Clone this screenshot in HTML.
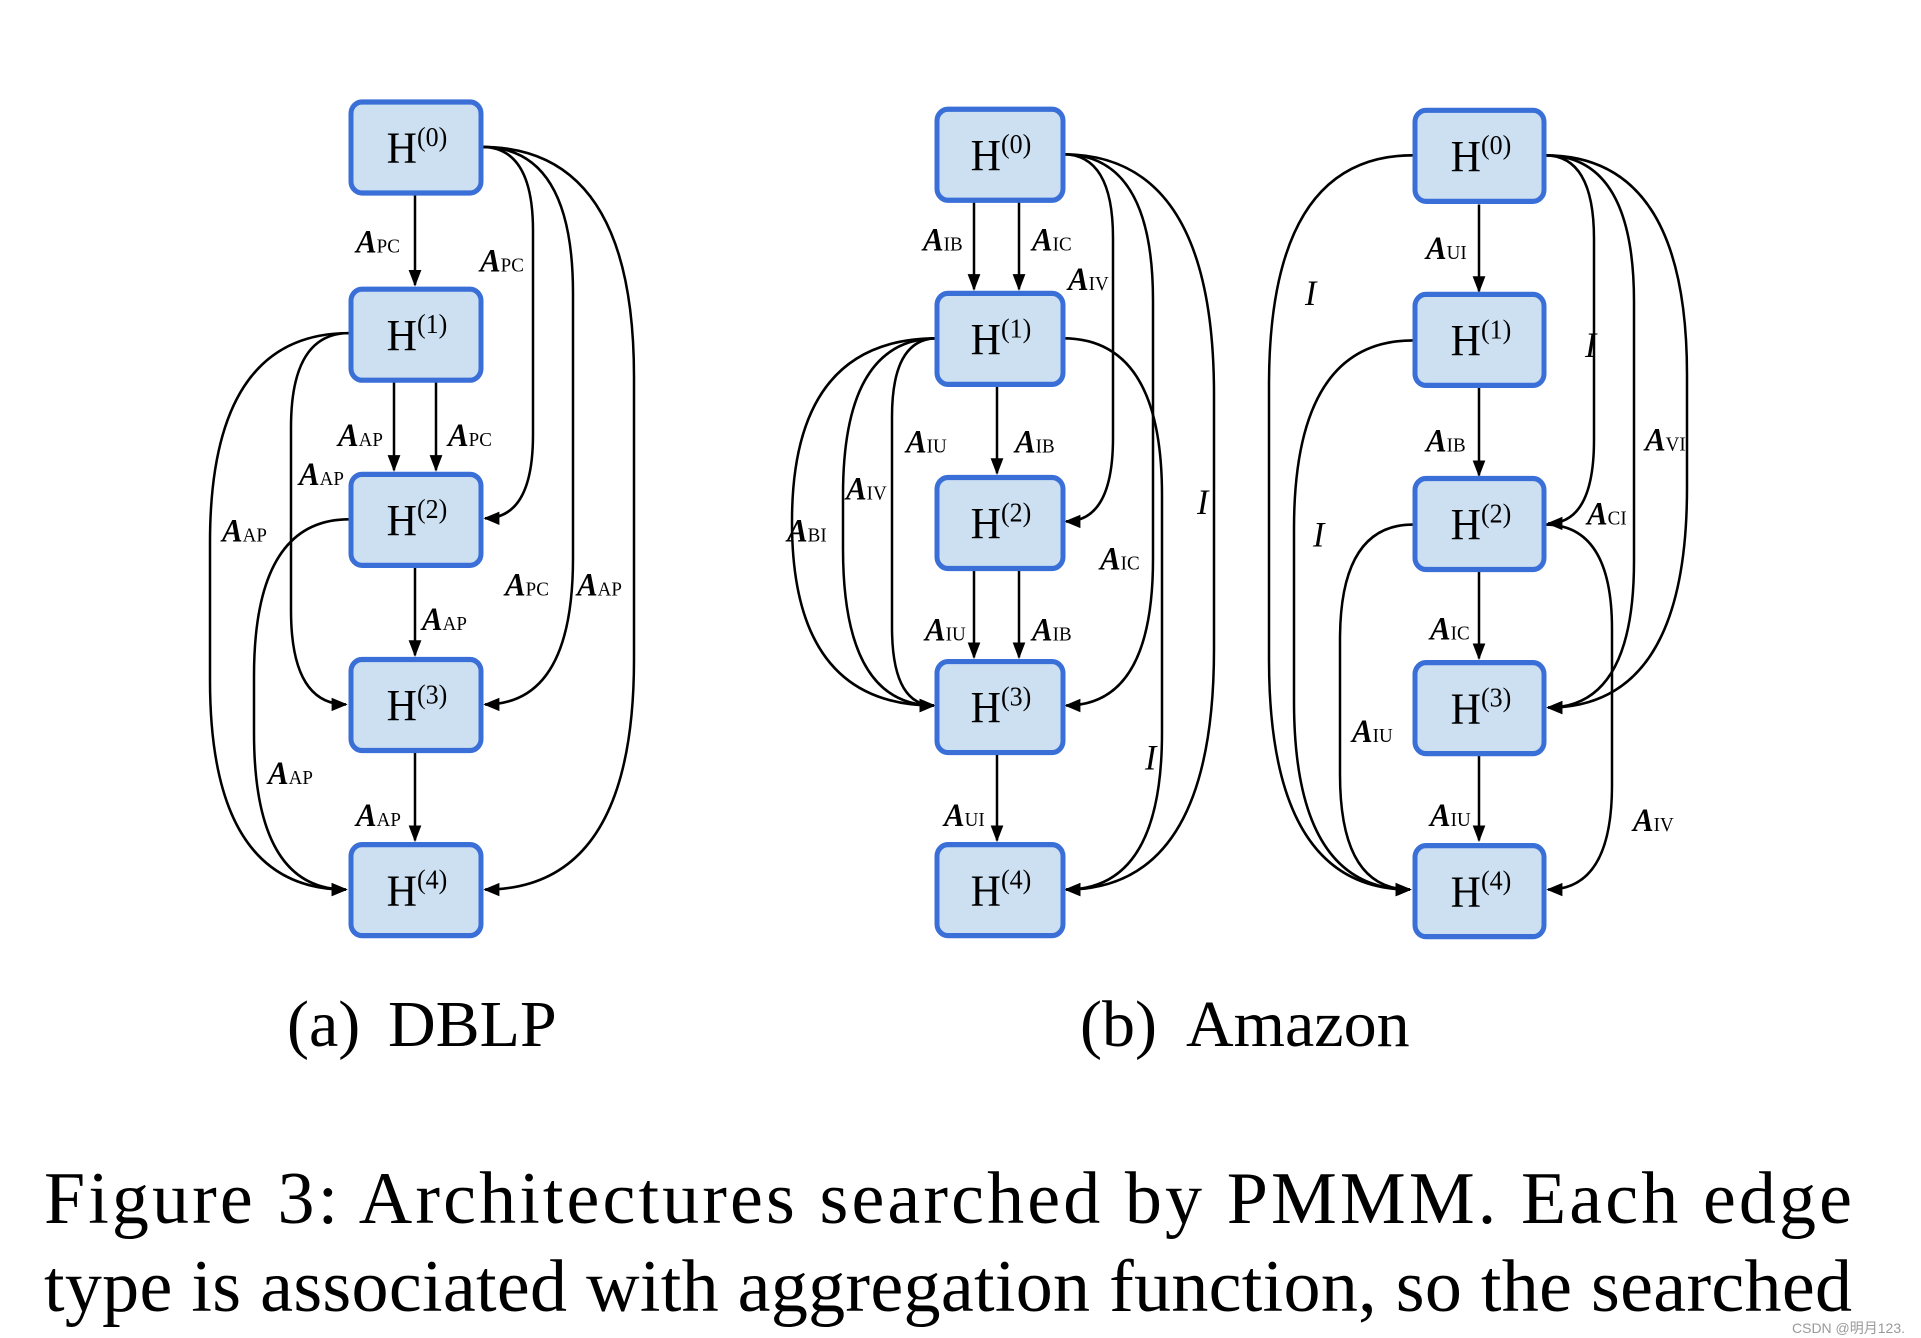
<!DOCTYPE html>
<html><head><meta charset="utf-8"><style>
html,body{margin:0;padding:0;background:#fff;}
svg{display:block;}
.n{font-family:"Liberation Serif",serif;font-size:42px;fill:#000;}
.l{font-family:"Liberation Serif",serif;font-size:31px;font-weight:bold;font-style:italic;fill:#000;}
.s{font-size:19px;font-weight:normal;font-style:normal;}
.i{font-family:"Liberation Serif",serif;font-size:34px;font-style:italic;fill:#000;}
.c{font-family:"Liberation Serif",serif;font-size:66px;fill:#000;}
.f{font-family:"Liberation Serif",serif;font-size:74px;fill:#000;}
</style></head><body>
<svg width="1921" height="1338" viewBox="0 0 1921 1338" xmlns="http://www.w3.org/2000/svg">
<defs>
<marker id="b" viewBox="0 0 10 10" refX="9" refY="5" markerWidth="16" markerHeight="16" orient="auto" markerUnits="userSpaceOnUse">
<path d="M0,1 L10,5 L0,9 z" fill="#000"/></marker>
</defs>
<g transform="translate(0,-1.6) scale(1,1.046)">
<g fill="none" stroke="#000" stroke-width="2.5" marker-end="url(#b)">
<path d="M415 188 L415 274"/>
<path d="M394 367 L394 451"/>
<path d="M436 367 L436 451"/>
<path d="M415 543 L415 628"/>
<path d="M415 721 L415 805"/>
<path d="M482 142 Q533 142 533 222 L533 417 Q533 497 485 497"/>
<path d="M482 142 Q573 142 573 282 L573 535 Q573 675 485 675"/>
<path d="M482 142 Q634 142 634 362 L634 632 Q634 852 485 852"/>
<path d="M349 320 Q291 320 291 410 L291 585 Q291 675 346 675"/>
<path d="M349 320 Q210 320 210 520 L210 652 Q210 852 346 852"/>
<path d="M349 498 Q254 498 254 648 L254 702 Q254 852 346 852"/>
<path d="M974 195 L974 278"/>
<path d="M1019 195 L1019 278"/>
<path d="M997 370 L997 454"/>
<path d="M974 546 L974 630"/>
<path d="M1019 546 L1019 630"/>
<path d="M997 722 L997 805"/>
<path d="M1063 149 Q1113 149 1113 229 L1113 420 Q1113 500 1066 500"/>
<path d="M1063 149 Q1153 149 1153 289 L1153 536 Q1153 676 1066 676"/>
<path d="M1063 149 Q1214 149 1214 379 L1214 622 Q1214 852 1066 852"/>
<path d="M1063 325 Q1162 325 1162 475 L1162 702 Q1162 852 1066 852"/>
<path d="M937 325 Q792 325 792 500 L792 501 Q792 676 934 676"/>
<path d="M937 325 Q843 325 843 475 L843 526 Q843 676 934 676"/>
<path d="M937 325 Q892 325 892 400 L892 601 Q892 676 934 676"/>
<path d="M1479 197 L1479 280"/>
<path d="M1479 371 L1479 456"/>
<path d="M1479 547 L1479 631"/>
<path d="M1479 723 L1479 805"/>
<path d="M1413 150 Q1269 150 1269 370 L1269 632 Q1269 852 1410 852"/>
<path d="M1413 327 Q1294 327 1294 507 L1294 672 Q1294 852 1410 852"/>
<path d="M1413 503 Q1340 503 1340 613 L1340 742 Q1340 852 1410 852"/>
<path d="M1545 150 Q1594 150 1594 230 L1594 422 Q1594 502 1548 502"/>
<path d="M1545 150 Q1634 150 1634 290 L1634 538 Q1634 678 1548 678"/>
<path d="M1545 150 Q1687 150 1687 360 L1687 468 Q1687 678 1548 678"/>
<path d="M1545 503 Q1612 503 1612 603 L1612 752 Q1612 852 1548 852"/>
</g>
<g fill="#cde0f2" stroke="#3a6fd8" stroke-width="5">
<rect x="351" y="99" width="130" height="87" rx="11"/>
<rect x="351" y="278" width="130" height="87" rx="11"/>
<rect x="351" y="455" width="130" height="87" rx="11"/>
<rect x="351" y="632" width="130" height="87" rx="11"/>
<rect x="351" y="809" width="130" height="87" rx="11"/>
<rect x="937" y="106" width="126" height="87" rx="11"/>
<rect x="937" y="282" width="126" height="87" rx="11"/>
<rect x="937" y="458" width="126" height="87" rx="11"/>
<rect x="937" y="634" width="126" height="87" rx="11"/>
<rect x="937" y="809" width="126" height="87" rx="11"/>
<rect x="1415" y="107" width="129" height="87" rx="11"/>
<rect x="1415" y="283" width="129" height="87" rx="11"/>
<rect x="1415" y="459" width="129" height="87" rx="11"/>
<rect x="1415" y="635" width="129" height="87" rx="11"/>
<rect x="1415" y="810" width="129" height="87" rx="11"/>
</g>
<g class="n" text-anchor="middle">
<text x="417" y="157">H<tspan font-size="26" dy="-16">(0)</tspan></text>
<text x="417" y="336">H<tspan font-size="26" dy="-16">(1)</tspan></text>
<text x="417" y="513">H<tspan font-size="26" dy="-16">(2)</tspan></text>
<text x="417" y="690">H<tspan font-size="26" dy="-16">(3)</tspan></text>
<text x="417" y="867">H<tspan font-size="26" dy="-16">(4)</tspan></text>
<text x="1001" y="164">H<tspan font-size="26" dy="-16">(0)</tspan></text>
<text x="1001" y="340">H<tspan font-size="26" dy="-16">(1)</tspan></text>
<text x="1001" y="516">H<tspan font-size="26" dy="-16">(2)</tspan></text>
<text x="1001" y="692">H<tspan font-size="26" dy="-16">(3)</tspan></text>
<text x="1001" y="867">H<tspan font-size="26" dy="-16">(4)</tspan></text>
<text x="1481" y="165">H<tspan font-size="26" dy="-16">(0)</tspan></text>
<text x="1481" y="341">H<tspan font-size="26" dy="-16">(1)</tspan></text>
<text x="1481" y="517">H<tspan font-size="26" dy="-16">(2)</tspan></text>
<text x="1481" y="693">H<tspan font-size="26" dy="-16">(3)</tspan></text>
<text x="1481" y="868">H<tspan font-size="26" dy="-16">(4)</tspan></text>
</g>
<g transform="translate(0,-9)">
<g class="l">
<text x="356" y="252">A<tspan class="s">PC</tspan></text>
<text x="480" y="270">A<tspan class="s">PC</tspan></text>
<text x="338" y="437">A<tspan class="s">AP</tspan></text>
<text x="448" y="437">A<tspan class="s">PC</tspan></text>
<text x="299" y="474">A<tspan class="s">AP</tspan></text>
<text x="222" y="528">A<tspan class="s">AP</tspan></text>
<text x="422" y="613">A<tspan class="s">AP</tspan></text>
<text x="505" y="580">A<tspan class="s">PC</tspan></text>
<text x="577" y="580">A<tspan class="s">AP</tspan></text>
<text x="268" y="760">A<tspan class="s">AP</tspan></text>
<text x="356" y="800">A<tspan class="s">AP</tspan></text>
<text x="923" y="250">A<tspan class="s">IB</tspan></text>
<text x="1032" y="250">A<tspan class="s">IC</tspan></text>
<text x="1068" y="288">A<tspan class="s">IV</tspan></text>
<text x="906" y="443">A<tspan class="s">IU</tspan></text>
<text x="1015" y="443">A<tspan class="s">IB</tspan></text>
<text x="846" y="488">A<tspan class="s">IV</tspan></text>
<text x="787" y="528">A<tspan class="s">BI</tspan></text>
<text x="1100" y="555">A<tspan class="s">IC</tspan></text>
<text x="925" y="623">A<tspan class="s">IU</tspan></text>
<text x="1032" y="623">A<tspan class="s">IB</tspan></text>
<text x="944" y="800">A<tspan class="s">UI</tspan></text>
<text x="1426" y="258">A<tspan class="s">UI</tspan></text>
<text x="1426" y="442">A<tspan class="s">IB</tspan></text>
<text x="1430" y="622">A<tspan class="s">IC</tspan></text>
<text x="1430" y="800">A<tspan class="s">IU</tspan></text>
<text x="1352" y="720">A<tspan class="s">IU</tspan></text>
<text x="1645" y="441">A<tspan class="s">VI</tspan></text>
<text x="1587" y="512">A<tspan class="s">CI</tspan></text>
<text x="1633" y="805">A<tspan class="s">IV</tspan></text>
</g>
<g class="i">
<text x="1197" y="502">I</text>
<text x="1145" y="746">I</text>
<text x="1305" y="302">I</text>
<text x="1313" y="533">I</text>
<text x="1585" y="352">I</text>
</g>
</g>
</g>
<text class="c" x="287" y="1046">(a)</text>
<text class="c" x="388" y="1046">DBLP</text>
<text class="c" x="1080" y="1046">(b)</text>
<text class="c" x="1186" y="1046">Amazon</text>
<text class="f" x="44" y="1223" textLength="1808" lengthAdjust="spacing">Figure 3: Architectures searched by PMMM. Each edge</text>
<text class="f" x="44" y="1311" textLength="1808" lengthAdjust="spacing">type is associated with aggregation function, so the searched</text>
<text x="1792" y="1333" font-family="Liberation Sans, Noto Sans CJK SC, sans-serif" font-size="14" fill="#999">CSDN @明月123.</text>
</svg>
</body></html>
